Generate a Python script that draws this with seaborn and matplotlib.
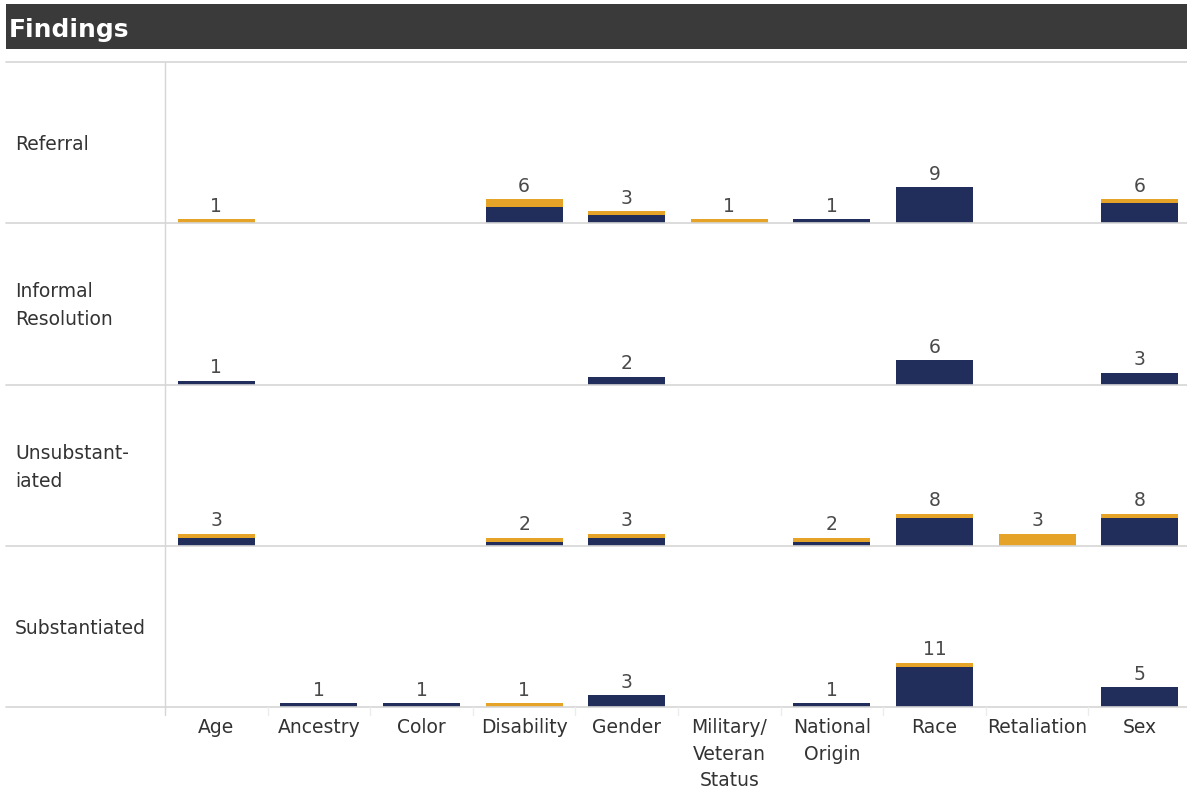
import matplotlib
matplotlib.use("Agg")
import matplotlib.pyplot as plt
from matplotlib.lines import Line2D
from matplotlib.patches import Rectangle
import seaborn as sns
import pandas as pd

# ---- data -------------------------------------------------------------
categories = ["Age", "Ancestry", "Color", "Disability", "Gender",
              "Military/\nVeteran\nStatus", "National\nOrigin", "Race",
              "Retaliation", "Sex"]
findings = ["Referral", "Informal\nResolution", "Unsubstant-\niated", "Substantiated"]

# lower (navy) segment of each stacked bar
base_referral        = [0, 0, 0, 4, 2, 0, 1, 9, 0, 5]
base_informal        = [1, 0, 0, 0, 2, 0, 0, 6, 0, 3]
base_unsubstantiated = [2, 0, 0, 1, 2, 0, 1, 7, 0, 7]
base_substantiated   = [0, 1, 1, 0, 3, 0, 1, 10, 0, 5]

# upper (gold) segment of each stacked bar
top_referral        = [1, 0, 0, 2, 1, 1, 0, 0, 0, 1]
top_informal        = [0, 0, 0, 0, 0, 0, 0, 0, 0, 0]
top_unsubstantiated = [1, 0, 0, 1, 1, 0, 1, 1, 3, 1]
top_substantiated   = [0, 0, 0, 1, 0, 0, 0, 1, 0, 0]

base_values = [base_referral, base_informal, base_unsubstantiated, base_substantiated]
top_values = [top_referral, top_informal, top_unsubstantiated, top_substantiated]

# ---- style ------------------------------------------------------------
NAVY = "#212d5b"
GOLD = "#e5a427"
RULE = "#d6d6d6"
TEXT = "#333333"
FS = 13.5

sns.set_theme(style="white")
plt.rcParams["font.family"] = ["DejaVu Sans"]

W, H = 1187, 793
fig = plt.figure(figsize=(W / 100, H / 100), dpi=100)
fig.patch.set_facecolor("white")

def fx(px):
    return px / W

def fy(py):
    return 1 - py / H

# title band
fig.add_artist(Rectangle((fx(6), fy(49)), fx(W - 6), 45 / H,
                         transform=fig.transFigure, facecolor="#3a3a3a",
                         edgecolor="none"))
fig.text(fx(9), fy(30), "Findings", color="white", fontsize=18,
         fontweight="bold", va="center", ha="left")

# panel geometry
left_px = 165
right_px = 1191
top_px = 62
panel_h = 161.3
bottoms = [top_px + panel_h * (i + 1) for i in range(4)]

# header rule and row dividers
for y in [top_px] + bottoms:
    fig.add_artist(Line2D([fx(6), fx(W)], [fy(y), fy(y)],
                          transform=fig.transFigure, color=RULE, lw=1.2))
# vertical divider between row labels and panes
fig.add_artist(Line2D([fx(left_px), fx(left_px)], [fy(top_px), fy(bottoms[-1] + 8)],
                      transform=fig.transFigure, color=RULE, lw=1))

col_w = (right_px - left_px) / len(categories)
for k in range(1, len(categories)):
    xk = left_px + k * col_w
    fig.add_artist(Line2D([fx(xk), fx(xk)], [fy(bottoms[-1]), fy(bottoms[-1] + 8)],
                          transform=fig.transFigure, color="#ececec", lw=1))

for i, label in enumerate(findings):
    base = base_values[i]
    top = top_values[i]
    total = [a + b for a, b in zip(base, top)]
    df = pd.DataFrame({"category": categories, "base": base, "total": total})

    ax = fig.add_axes([fx(left_px), fy(bottoms[i]), fx(right_px - left_px), panel_h / H])
    ax.set_facecolor("none")

    sns.barplot(data=df, x="category", y="total", order=categories, color=GOLD,
                saturation=1, width=0.75, errorbar=None, linewidth=0, ax=ax)
    sns.barplot(data=df, x="category", y="base", order=categories, color=NAVY,
                saturation=1, width=0.75, errorbar=None, linewidth=0, ax=ax)

    for j, t in enumerate(total):
        if t > 0:
            ax.annotate(str(t), (j, t), xytext=(0, 2.5), textcoords="offset points",
                        ha="center", va="bottom", fontsize=FS, color="#4a4a4a")

    ax.set_xlim(-0.5, len(categories) - 0.5)
    ax.set_ylim(0, 40)
    ax.set_ylabel("")
    ax.set_xlabel("")
    ax.set_yticks([])
    for s in ax.spines.values():
        s.set_visible(False)

    if i == len(findings) - 1:
        ax.set_xticks(range(len(categories)))
        ax.set_xticklabels(categories, fontsize=FS, color=TEXT, linespacing=1.5)
        ax.tick_params(axis="x", length=0, pad=8)
    else:
        ax.set_xticks([])

    # row header
    mid = bottoms[i] - panel_h / 2 + 2
    fig.text(fx(15), fy(mid), label, fontsize=FS, color=TEXT,
             ha="left", va="center", linespacing=1.6)

fig.savefig("out.png", dpi=100, facecolor="white")
